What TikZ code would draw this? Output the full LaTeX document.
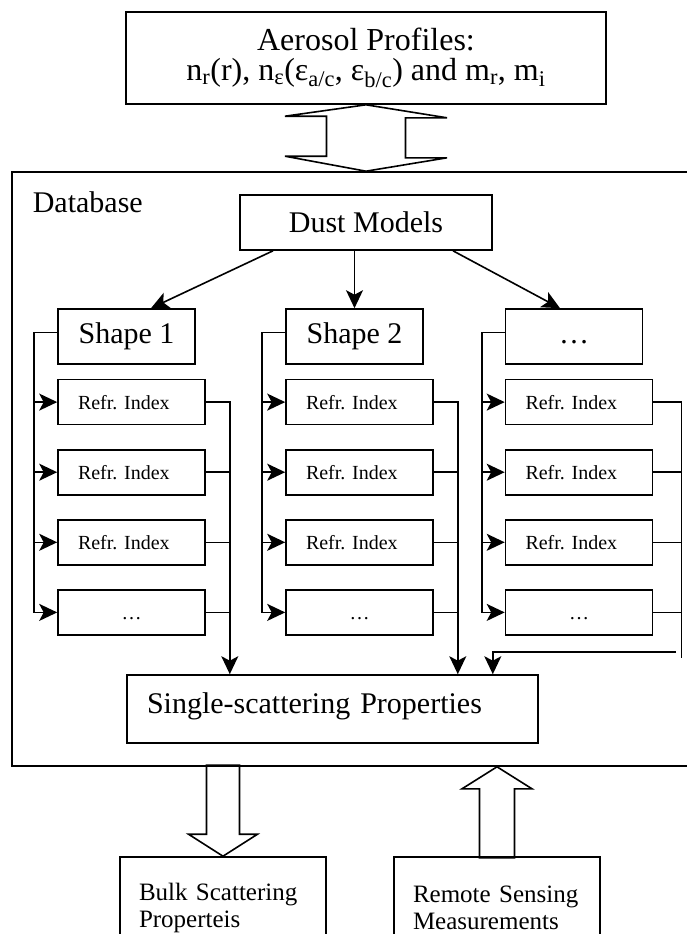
\documentclass[tikz,border=0pt]{standalone}
\usepackage{fontspec}
\setmainfont{Liberation Serif}
\frenchspacing
\usetikzlibrary{positioning,arrows.meta}

\begin{document}
\begin{tikzpicture}[x=1pt, y=-1pt, line width=1.6pt,
  link/.style={-{Stealth[length=18pt,width=17pt,inset=4.5pt]}},
  box/.style={draw, rectangle, inner sep=0pt},
  shape node/.style={box, minimum width=137pt, minimum height=55pt, text height=21pt, text depth=7pt},
  refr node/.style={box, font=\fontsize{20}{20}\selectfont, minimum height=45pt, text width=107pt, inner xsep=20pt, align=left, text height=14pt, text depth=0pt},
  dots node/.style={refr node, align=center},
  out node/.style={box, font=\fontsize{25}{27}\selectfont, minimum height=102pt, text width=168pt, inner xsep=19pt, align=left}]
  \tikzstyle{every node}=[font=\fontsize{30}{30}\selectfont]
  \useasboundingbox (0,0) rectangle (686,934);

  % database frame
  \node[box, minimum width=688pt, minimum height=594pt] (db) at (356,469) {};
  \node[anchor=base west, inner sep=0pt] (dbname) at (32,212) {Database};

  \node[box, minimum width=480pt, minimum height=92pt, align=center, font=\fontsize{32}{30}\selectfont] (aero) at (366,58)
    {Aerosol Profiles:\\ n\textsubscript{r}(r), n\textsubscript{ε}(ε\textsubscript{a/c}, ε\textsubscript{b/c}) and m\textsubscript{r}, m\textsubscript{i}};
  \node[box, minimum width=252pt, minimum height=55pt] (dust) at (366,222.5) {Dust Models};

  \node[shape node] (s1) at (126.5,336.5) {Shape 1};
  \node[shape node] (s2) at (354.5,336.5) {Shape 2};
  \node[shape node] (s3) at (574,336.5) {…};

  \node[refr node, below=14pt of s1.south west, anchor=north west] (r11) {Refr. Index};
  \node[refr node, below=23.5pt of r11] (r12) {Refr. Index};
  \node[refr node, below=23.5pt of r12] (r13) {Refr. Index};
  \node[dots node, below=23.5pt of r13] (r14) {…};

  \node[refr node, below=14pt of s2.south west, anchor=north west] (r21) {Refr. Index};
  \node[refr node, below=23.5pt of r21] (r22) {Refr. Index};
  \node[refr node, below=23.5pt of r22] (r23) {Refr. Index};
  \node[dots node, below=23.5pt of r23] (r24) {…};

  \node[refr node, below=14pt of s3.south west, anchor=north west] (r31) {Refr. Index};
  \node[refr node, below=23.5pt of r31] (r32) {Refr. Index};
  \node[refr node, below=23.5pt of r32] (r33) {Refr. Index};
  \node[dots node, below=23.5pt of r33] (r34) {…};

  \node[box, minimum width=411pt, minimum height=68pt, text width=371pt, inner xsep=20pt, align=left,
    text height=20pt, text depth=12pt] (ssp) at (332.5,709) {Single-scattering Properties};

  \node[out node] (bulk) at (223,908) {Bulk Scattering\\Properteis};
  \node[out node] (rsm) at (497,908) {Remote Sensing\\Measurements};

  % dust models to shapes
  \draw[link] ([xshift=-93pt]dust.south) -- ([xshift=24.5pt]s1.north);
  \draw[link] (s2.north |- dust.south) -- (s2.north);
  \draw[link] ([xshift=87pt]dust.south) -- ([xshift=-14pt]s3.north);

  % shape 1
  \draw[link] ([yshift=4pt]s1.west) -- ++(-23,0) coordinate (a1) |- (r14.west);
  \draw[link] (a1 |- r11.west) -- (r11.west);
  \draw[link] (a1 |- r12.west) -- (r12.west);
  \draw[link] (a1 |- r13.west) -- (r13.west);
  \draw[link] (r11.east) -- ++(24,0) coordinate (c1) -- (c1 |- ssp.north);
  \draw (r12.east) -- (r12.east -| c1);
  \draw (r13.east) -- (r13.east -| c1);
  \draw (r14.east) -- (r14.east -| c1);

  % shape 2
  \draw[link] ([yshift=4pt]s2.west) -- ++(-23,0) coordinate (a2) |- (r24.west);
  \draw[link] (a2 |- r21.west) -- (r21.west);
  \draw[link] (a2 |- r22.west) -- (r22.west);
  \draw[link] (a2 |- r23.west) -- (r23.west);
  \draw[link] (r21.east) -- ++(24,0) coordinate (c2) -- (c2 |- ssp.north);
  \draw (r22.east) -- (r22.east -| c2);
  \draw (r23.east) -- (r23.east -| c2);
  \draw (r24.east) -- (r24.east -| c2);

  % third shape
  \draw[link] ([yshift=4pt]s3.west) -- ++(-23,0) coordinate (a3) |- (r34.west);
  \draw[link] (a3 |- r31.west) -- (r31.west);
  \draw[link] (a3 |- r32.west) -- (r32.west);
  \draw[link] (a3 |- r33.west) -- (r33.west);
  \draw (r31.east) -- ++(28,0) coordinate (c3) -- ++(0,256);
  \draw (r32.east) -- (r32.east -| c3);
  \draw (r33.east) -- (r33.east -| c3);
  \draw (r34.east) -- (r34.east -| c3);
  \coordinate (k3) at (676,652);
  \draw[link] (k3) -| ([xshift=-46pt]ssp.north east);

  % hollow arrows
  \draw (aero.south) -- ++(81,13) -- ++(-41.5,0) -- ++(0,40) -- ++(41.5,0) -- (aero.south |- db.north)
    -- ++(-81,-15) -- ++(41.5,0) -- ++(0,-40) -- ++(-41.5,0) -- cycle;
  \draw (bulk.north) -- ++(-34.5,-22) -- ++(18,0) -- ++(0,-69) -- ++(33,0) -- ++(0,69) -- ++(18,0) -- cycle;
  \draw (rsm.north |- db.south) -- ++(35,22) -- ++(-17.5,0) -- ++(0,69) -- ++(-35,0) -- ++(0,-69) -- ++(-17.5,0) -- cycle;
\end{tikzpicture}
\end{document}
